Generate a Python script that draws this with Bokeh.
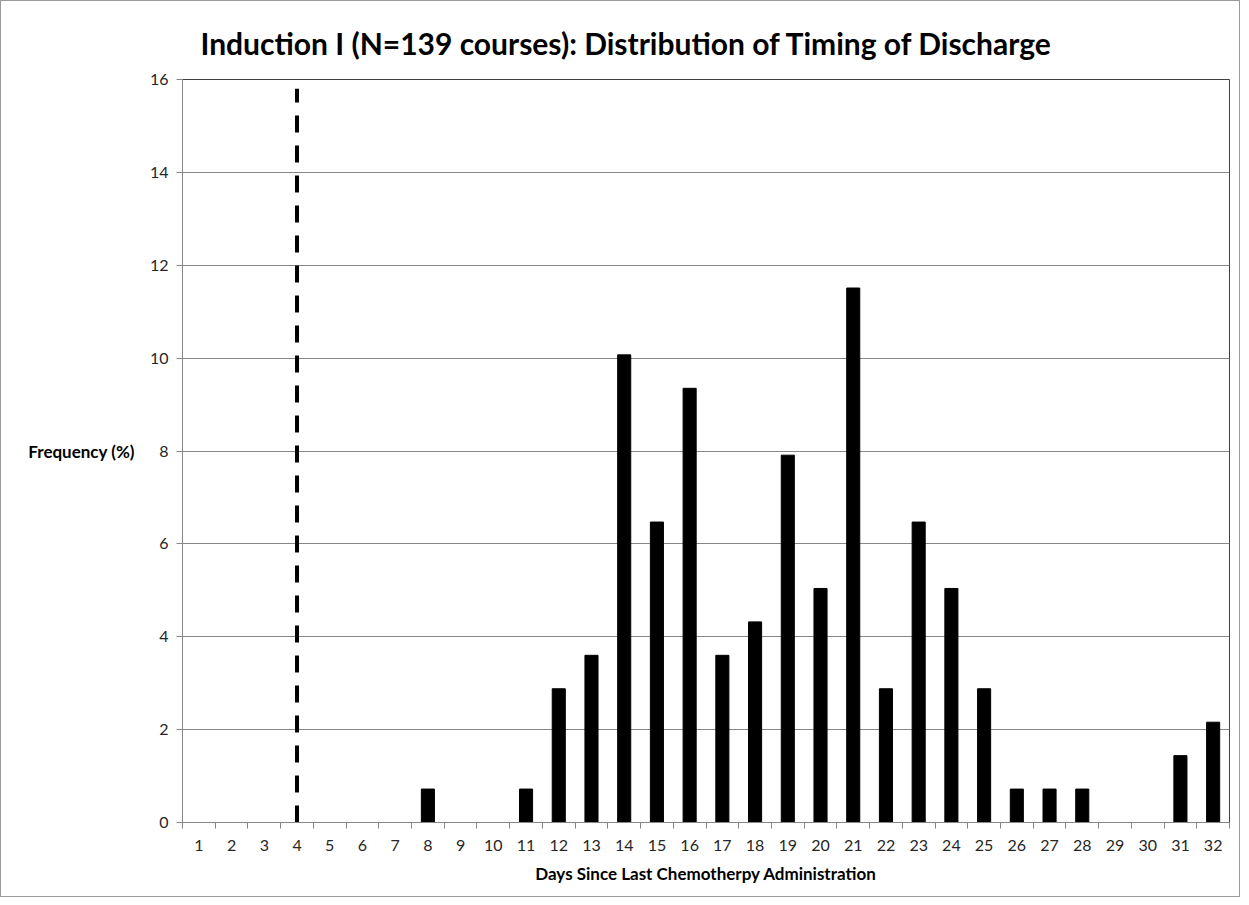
from bokeh.plotting import figure
from bokeh.models import FixedTicker, Range1d, ColumnDataSource
from bokeh.embed import file_html
from bokeh.resources import INLINE

days = list(range(1, 33))
freq = [0, 0, 0, 0, 0, 0, 0, 0.72, 0, 0, 0.72, 2.88, 3.60, 10.07, 6.47, 9.35,
        3.60, 4.32, 7.91, 5.04, 11.51, 2.88, 6.47, 5.04, 2.88, 0.72, 0.72, 0.72,
        0, 0, 1.44, 2.16]
marker_day = [4, 4]
marker_y = [0, 15.8]
y_ticks = [0, 2, 4, 6, 8, 10, 12, 14, 16]

FONT = "Lato"

p = figure(width=1240, height=897, output_backend="svg", toolbar_location=None,
           x_range=Range1d(0.5, 32.5), y_range=Range1d(0, 16),
           min_border_left=181, min_border_top=78, min_border_right=12,
           min_border_bottom=76)

src = ColumnDataSource(dict(x=days, top=freq))
p.vbar(x="x", top="top", width=0.4, bottom=0, source=src,
       fill_color="black", line_color="black")
p.line(marker_day, marker_y, line_color="black", line_width=4, line_dash="17 13")

p.title.text = "Induction I (N=139 courses): Distribution of Timing of Discharge"
p.title.text_font = FONT
p.title.text_font_size = "30px"
p.title.text_font_style = "bold"
p.title.align = "left"
p.title.offset = 18
p.title.standoff = 38
p.title.text_color = "black"

p.xaxis.ticker = FixedTicker(ticks=days, minor_ticks=[d + 0.5 for d in range(0, 33)])
p.xaxis.major_tick_out = 0
p.xaxis.major_tick_in = 0
p.xaxis.minor_tick_out = 6
p.xaxis.minor_tick_in = 0
p.xaxis.minor_tick_line_color = "#868686"
p.xaxis.axis_line_color = "#868686"
p.xaxis.major_label_standoff = 11
p.xaxis.axis_label = "Days Since Last Chemotherpy Administration"
p.xaxis.axis_label_standoff = 9

p.yaxis.ticker = FixedTicker(ticks=y_ticks)
p.yaxis.minor_tick_line_color = None
p.yaxis.major_tick_out = 6
p.yaxis.major_tick_in = 0
p.yaxis.major_tick_line_color = "#868686"
p.yaxis.axis_line_color = "#868686"
p.yaxis.major_label_standoff = 8
p.yaxis.axis_label = "Frequency (%)"
p.yaxis.axis_label_orientation = "horizontal"
p.yaxis.axis_label_standoff = 12

for ax in (p.xaxis, p.yaxis):
    ax.major_label_text_font = FONT
    ax.major_label_text_font_size = "16px"
    ax.major_label_text_color = "#262626"
    ax.axis_label_text_font = FONT
    ax.axis_label_text_font_size = "17px"
    ax.axis_label_text_font_style = "bold"
    ax.axis_label_text_color = "black"

p.xgrid.grid_line_color = None
p.ygrid.ticker = FixedTicker(ticks=y_ticks)
p.ygrid.grid_line_color = "#868686"
p.outline_line_color = "#404040"
p.styles = {"border": "1px solid #9a9a9a"}

open("out.html", "w").write(file_html(p, INLINE))
